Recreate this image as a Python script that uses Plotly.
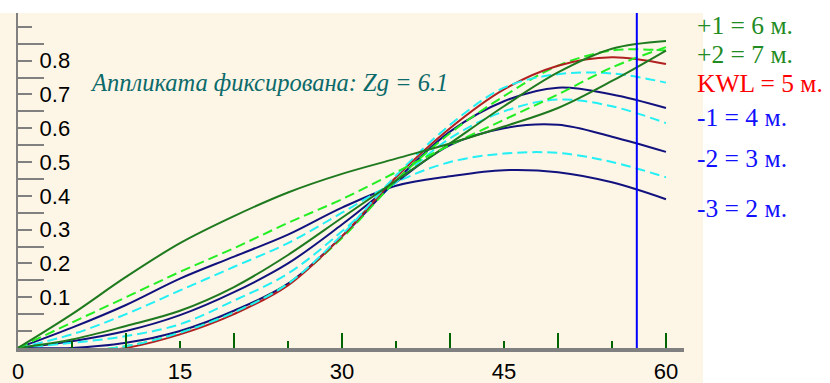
import plotly.graph_objects as go

# ---------------- data ----------------
heel_deg = [0, 5, 10, 15, 20, 25, 30, 35, 40, 45, 50, 55, 60]

draft_2m = [-0.05, 0.01, 0.077, 0.155, 0.22, 0.285, 0.365, 0.43, 0.458, 0.476, 0.47, 0.44, 0.39]
draft_2_5m = [-0.05, -0.01, 0.05, 0.12, 0.19, 0.26, 0.35, 0.44, 0.50, 0.525, 0.527, 0.50, 0.455]
draft_3m = [-0.05, -0.03, 0.0, 0.047, 0.115, 0.20, 0.315, 0.44, 0.55, 0.60, 0.61, 0.575, 0.53]
draft_3_5m = [-0.05, -0.035, -0.015, 0.02, 0.09, 0.17, 0.295, 0.44, 0.57, 0.65, 0.685, 0.665, 0.615]
draft_4m = [-0.05, -0.05, -0.035, 0.0, 0.06, 0.14, 0.28, 0.445, 0.59, 0.68, 0.72, 0.70, 0.66]
draft_4_5m = [-0.05, -0.06, -0.045, -0.005, 0.055, 0.14, 0.285, 0.46, 0.61, 0.72, 0.76, 0.762, 0.735]
draft_5m = [-0.05, -0.065, -0.05, -0.01, 0.05, 0.135, 0.28, 0.455, 0.60, 0.715, 0.785, 0.81, 0.79]
draft_5_5m = [-0.05, -0.06, -0.045, -0.005, 0.055, 0.14, 0.275, 0.445, 0.585, 0.695, 0.785, 0.83, 0.83]
draft_6m = [-0.05, -0.025, 0.015, 0.06, 0.13, 0.225, 0.335, 0.445, 0.555, 0.665, 0.765, 0.835, 0.858]
draft_6_5m = [-0.05, 0.025, 0.10, 0.175, 0.245, 0.32, 0.39, 0.47, 0.55, 0.625, 0.70, 0.78, 0.84]
draft_7m = [-0.05, 0.05, 0.16, 0.26, 0.34, 0.41, 0.465, 0.51, 0.555, 0.605, 0.66, 0.74, 0.83]

marker_angle = 57.3

x_major_ticks = [0, 10, 20, 30, 40, 50, 60]
x_minor_ticks = [5, 15, 25, 35, 45, 55]
x_label_vals = [0, 15, 30, 45, 60]
x_label_text = ["0", "15", "30", "45", "60"]

y_major_ticks = [0.0, 0.1, 0.2, 0.3, 0.4, 0.5, 0.6, 0.7, 0.8, 0.9]
y_major_text = ["", "0.1", "0.2", "0.3", "0.4", "0.5", "0.6", "0.7", "0.8", ""]
y_minor_ticks = [0.05, 0.15, 0.25, 0.35, 0.45, 0.55, 0.65, 0.75, 0.85]

legend_labels = ["+1 = 6 м.", "+2 = 7 м.", "KWL = 5 м.", "-1 = 4 м.", "-2 = 3 м.", "-3 = 2 м."]
title_text = "Аппликата фиксирована: Zg = 6.1"

# ---------------- styles ----------------
NAVY = "#12127e"
CYAN = "#22f0f4"
DKGREEN = "#1f7a1f"
LIME = "#22ee22"
DKRED = "#b02020"
DASH = "10px,5px"

series = [
    (draft_2m, NAVY, "solid"),
    (draft_2_5m, CYAN, DASH),
    (draft_3m, NAVY, "solid"),
    (draft_3_5m, CYAN, DASH),
    (draft_4m, NAVY, "solid"),
    (draft_5_5m, LIME, DASH),
    (draft_5m, DKRED, "solid"),
    (draft_4_5m, CYAN, DASH),
    (draft_6m, DKGREEN, "solid"),
    (draft_6_5m, LIME, DASH),
    (draft_7m, DKGREEN, "solid"),
]

Y_RANGE = [-0.0503, 0.941]
X_RANGE = [0, 61.67]

fig = go.Figure()
for vals, col, dash in series:
    fig.add_trace(go.Scatter(
        x=heel_deg, y=vals, mode="lines",
        line=dict(color=col, width=2, dash=dash, shape="spline", smoothing=1.0),
        showlegend=False, hoverinfo="skip"))

# helper trace for the label axis
fig.add_trace(go.Scatter(x=x_label_vals, y=[None] * len(x_label_vals), xaxis="x2",
                         mode="lines", showlegend=False, hoverinfo="skip"))

# marker line
fig.add_trace(go.Scatter(x=[marker_angle, marker_angle], y=Y_RANGE, mode="lines",
                         line=dict(color="#0000ff", width=2), showlegend=False, hoverinfo="skip"))

W, H = 830, 383
ML, MR, MT, MB = 18, 146, 13, 35
pw = W - ML - MR
ph = H - MT - MB

def px_x(p):
    return (p - ML) / pw

def px_y(p):
    return (H - MB - p) / ph

CREAM = "#fdf5e6"
TICKFONT = dict(family="Liberation Sans", size=22, color="black")

fig.update_layout(
    width=W, height=H,
    margin=dict(l=ML, r=MR, t=MT, b=MB, pad=0, autoexpand=False),
    paper_bgcolor="white",
    plot_bgcolor=CREAM,
    showlegend=False,
    xaxis=dict(range=X_RANGE, showline=True, linecolor="#808080", linewidth=4,
               ticks="inside", tickvals=x_major_ticks, ticklen=15, tickwidth=2,
               tickcolor="#006400", showticklabels=False, showgrid=False, zeroline=False,
               minor=dict(ticks="inside", tickvals=x_minor_ticks, ticklen=7, tickwidth=2,
                          tickcolor="#006400", showgrid=False),
               automargin=False, fixedrange=True),
    xaxis2=dict(range=X_RANGE, overlaying="x", anchor="y", side="bottom",
                tickvals=x_label_vals[1:], ticktext=x_label_text[1:], ticks="",
                showline=False, showgrid=False, zeroline=False,
                tickfont=TICKFONT, ticklabeloverflow="allow", ticklabelstandoff=8,
                automargin=False, fixedrange=True),
    yaxis=dict(range=Y_RANGE, showline=True, linecolor="#808080", linewidth=2,
               ticks="inside", tickvals=y_major_ticks, ticktext=y_major_text,
               ticklen=14, tickwidth=2, tickcolor="#808080",
               ticklabelposition="inside", ticklabelstandoff=9,
               tickfont=TICKFONT,
               showgrid=False, zeroline=False,
               minor=dict(ticks="inside", tickvals=y_minor_ticks, ticklen=26, tickwidth=2,
                          tickcolor="#808080", showgrid=False),
               automargin=False, fixedrange=True),
)

# first x tick label (at the y-axis corner)
fig.add_annotation(x=x_label_vals[0], y=px_y(371), xref="x", yref="paper",
                   xanchor="center", yanchor="middle", text=x_label_text[0],
                   showarrow=False, borderpad=0, font=TICKFONT)

# cream panel behind the chart
fig.add_shape(type="rect", xref="paper", yref="paper",
              x0=px_x(0), x1=px_x(703), y0=px_y(383), y1=px_y(13),
              fillcolor=CREAM, line=dict(width=0), layer="below")

fig.add_annotation(x=6.5, y=0.735, xref="x", yref="y", xanchor="left", yanchor="middle",
                   text="<i>" + title_text + "</i>", showarrow=False,
                   font=dict(family="Liberation Serif", size=24.5, color="#0b6a6a"))

legend_colors = ["#228b22", "#228b22", "#ff0000", "#1010ff", "#1010ff", "#1010ff"]
legend_py = [26, 54, 84, 117, 158, 208]
for lab, col, py in zip(legend_labels, legend_colors, legend_py):
    fig.add_annotation(x=px_x(696), y=px_y(py), xref="paper", yref="paper",
                       xanchor="left", yanchor="middle", text=lab, showarrow=False,
                       borderpad=0,
                       font=dict(family="Liberation Serif", size=25.5, color=col))

fig.write_html("out.html",
               config={"displayModeBar": False},
               post_script="document.body.style.margin='0px';document.body.style.padding='0px';")
